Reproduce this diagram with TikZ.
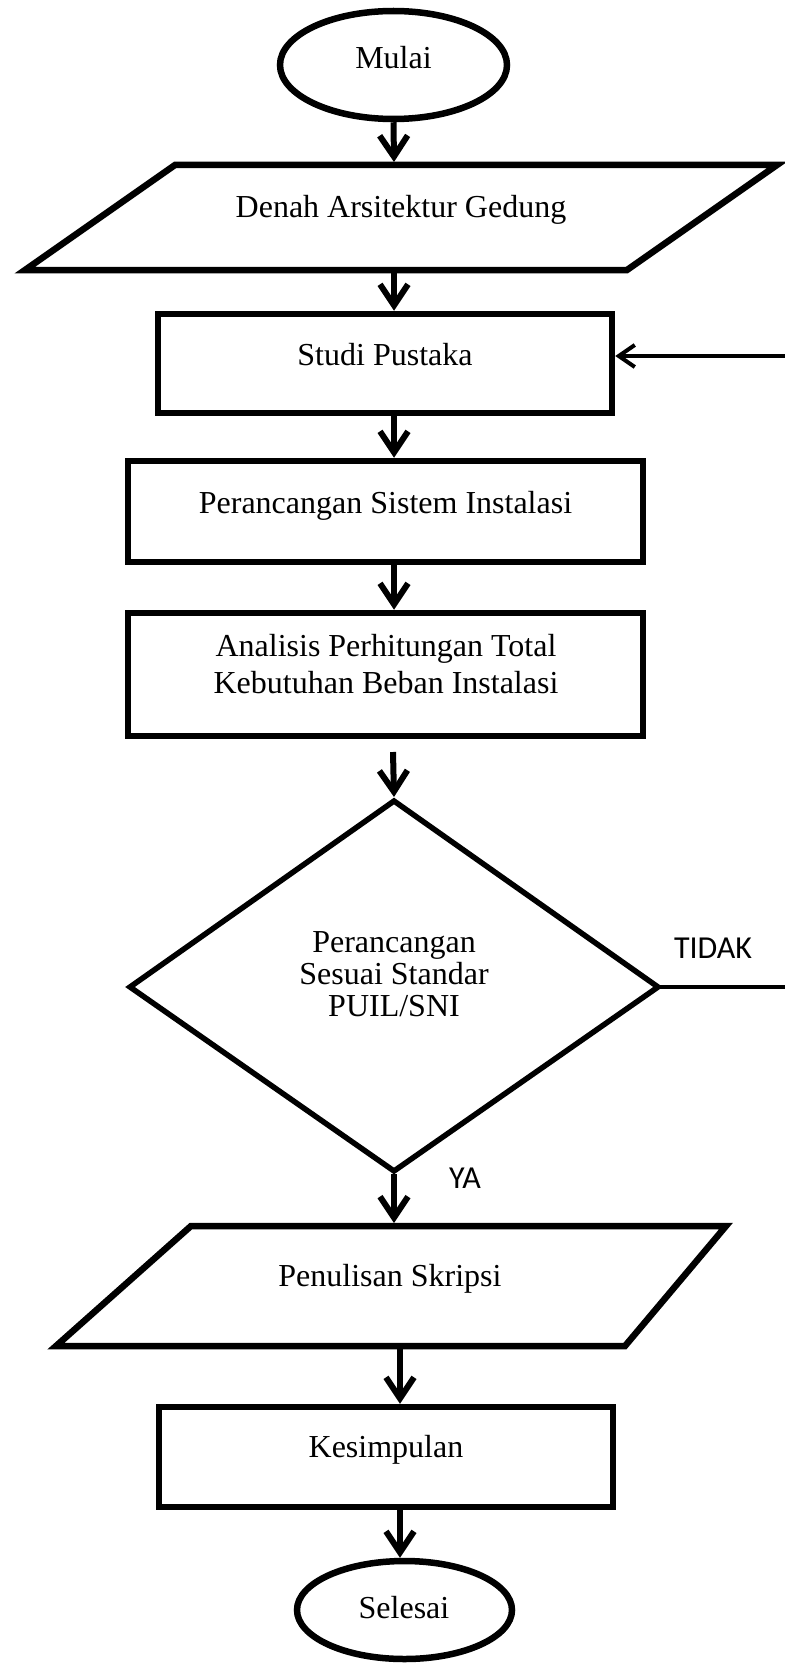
\documentclass[tikz,border=0pt]{standalone}
\usepackage{fontspec}
\setmainfont{Liberation Serif}
\newfontfamily\labfont{Carlito}
\usetikzlibrary{arrows.meta,shapes.geometric}
\begin{document}
\begin{tikzpicture}[x=1pt,y=-1pt,
  shp/.style={draw, line width=6.5pt, inner sep=0pt},
  poly/.style={draw, line width=6.5pt},
  dia/.style={draw, line width=5.5pt},
  arr/.style={line width=6pt, -{Straight Barb[length=21pt,width=28pt]}},
  fb/.style={line width=4pt},
  fbarr/.style={line width=4pt, -{Straight Barb[length=16pt,width=22pt]}},
  txt/.style={font=\fontsize{32}{36.5}\selectfont, inner sep=0pt, align=center},
  dtxt/.style={font=\fontsize{32}{32}\selectfont, inner sep=0pt, align=center},
  lab/.style={font=\labfont\fontsize{32}{36}\selectfont, inner sep=0pt}]
\useasboundingbox (0,0) rectangle (784,1664);
\fill[white] (0,0) rectangle (784,1664);

% Mulai
\node[shp, ellipse, minimum width=227pt, minimum height=108pt] (mulai) at (393.5,65) {};
\node[txt, anchor=base] (mulait) at (393.5,69) {Mulai};

% Denah Arsitektur Gedung
\coordinate (d1) at (175,165);
\coordinate (d2) at (777,165);
\coordinate (d3) at (627,270);
\coordinate (d4) at (25,270);
\draw[poly] (d1) -- (d2) -- (d3) -- (d4) -- cycle;
\node[txt, anchor=base] (denah) at (401,218) {Denah Arsitektur Gedung};
\coordinate (denahN) at (394,162);
\coordinate (denahS) at (394,267);

% Studi Pustaka
\node[shp, minimum width=454pt, minimum height=99pt] (studi) at (385,363.5) {};
\node[txt, anchor=base] (studit) at (385,365) {Studi Pustaka};

% Perancangan Sistem Instalasi
\node[shp, minimum width=515pt, minimum height=101pt] (peran) at (385.5,511.5) {};
\node[txt, anchor=base] (perant) at (385.5,513.5) {Perancangan Sistem Instalasi};

% Analisis
\node[shp, minimum width=515pt, minimum height=123pt] (anal) at (385.5,674.5) {};
\node[txt, anchor=base] (analt) at (386,693) {Analisis Perhitungan Total\\Kebutuhan Beban Instalasi};
\coordinate (analS) at (393,752);

% Diamond
\coordinate (dT) at (394,801);
\coordinate (dR) at (658,987);
\coordinate (dB) at (394,1171);
\coordinate (dL) at (130,987);
\draw[dia] (dT) -- (dR) -- (dB) -- (dL) -- cycle;
\node[dtxt, anchor=base] (dect) at (394,1016) {Perancangan\\Sesuai Standar\\PUIL/SNI};
\coordinate (dTop) at (394,797);
\coordinate (dBot) at (394,1174);

% Penulisan Skripsi
\coordinate (p1) at (191,1226);
\coordinate (p2) at (726,1226);
\coordinate (p3) at (625,1346);
\coordinate (p4) at (56,1346);
\draw[poly] (p1) -- (p2) -- (p3) -- (p4) -- cycle;
\node[txt, anchor=base] (penul) at (390,1286) {Penulisan Skripsi};
\coordinate (penN) at (394,1223);
\coordinate (penS) at (400,1343);

% Kesimpulan
\node[shp, minimum width=454pt, minimum height=100pt] (kesim) at (386,1457) {};
\node[txt, anchor=base] (kesimt) at (386,1457) {Kesimpulan};

% Selesai
\node[shp, ellipse, minimum width=215pt, minimum height=98pt] (selesai) at (404.5,1610) {};
\node[txt, anchor=base] (selesait) at (404,1618) {Selesai};

% labels
\node[lab, anchor=base] (tidak) at (713,958) {TIDAK};
\node[lab, anchor=base] (ya) at (465,1188) {YA};

% connectors
\draw[arr] (mulai.south) -- (denahN);
\draw[arr] (denahS) -- (studi.north -| denahS);
\draw[arr] (studi.south -| denahS) -- (peran.north -| denahS);
\draw[arr] (peran.south -| denahS) -- (anal.north -| denahS);
\draw[arr] (analS) -- (dTop);
\draw[arr] (dBot) -- (penN);
\draw[arr] (penS) -- (kesim.north -| penS);
\draw[arr] (kesim.south -| penS) -- (selesai.north -| penS);

% feedback
\coordinate (fbR) at (800,987);
\coordinate (fbU) at (800,356);
\draw[fb] (dR) -- (fbR) -- (fbU);
\draw[fbarr] (fbU) -- (studi.east |- fbU);
\end{tikzpicture}
\end{document}
